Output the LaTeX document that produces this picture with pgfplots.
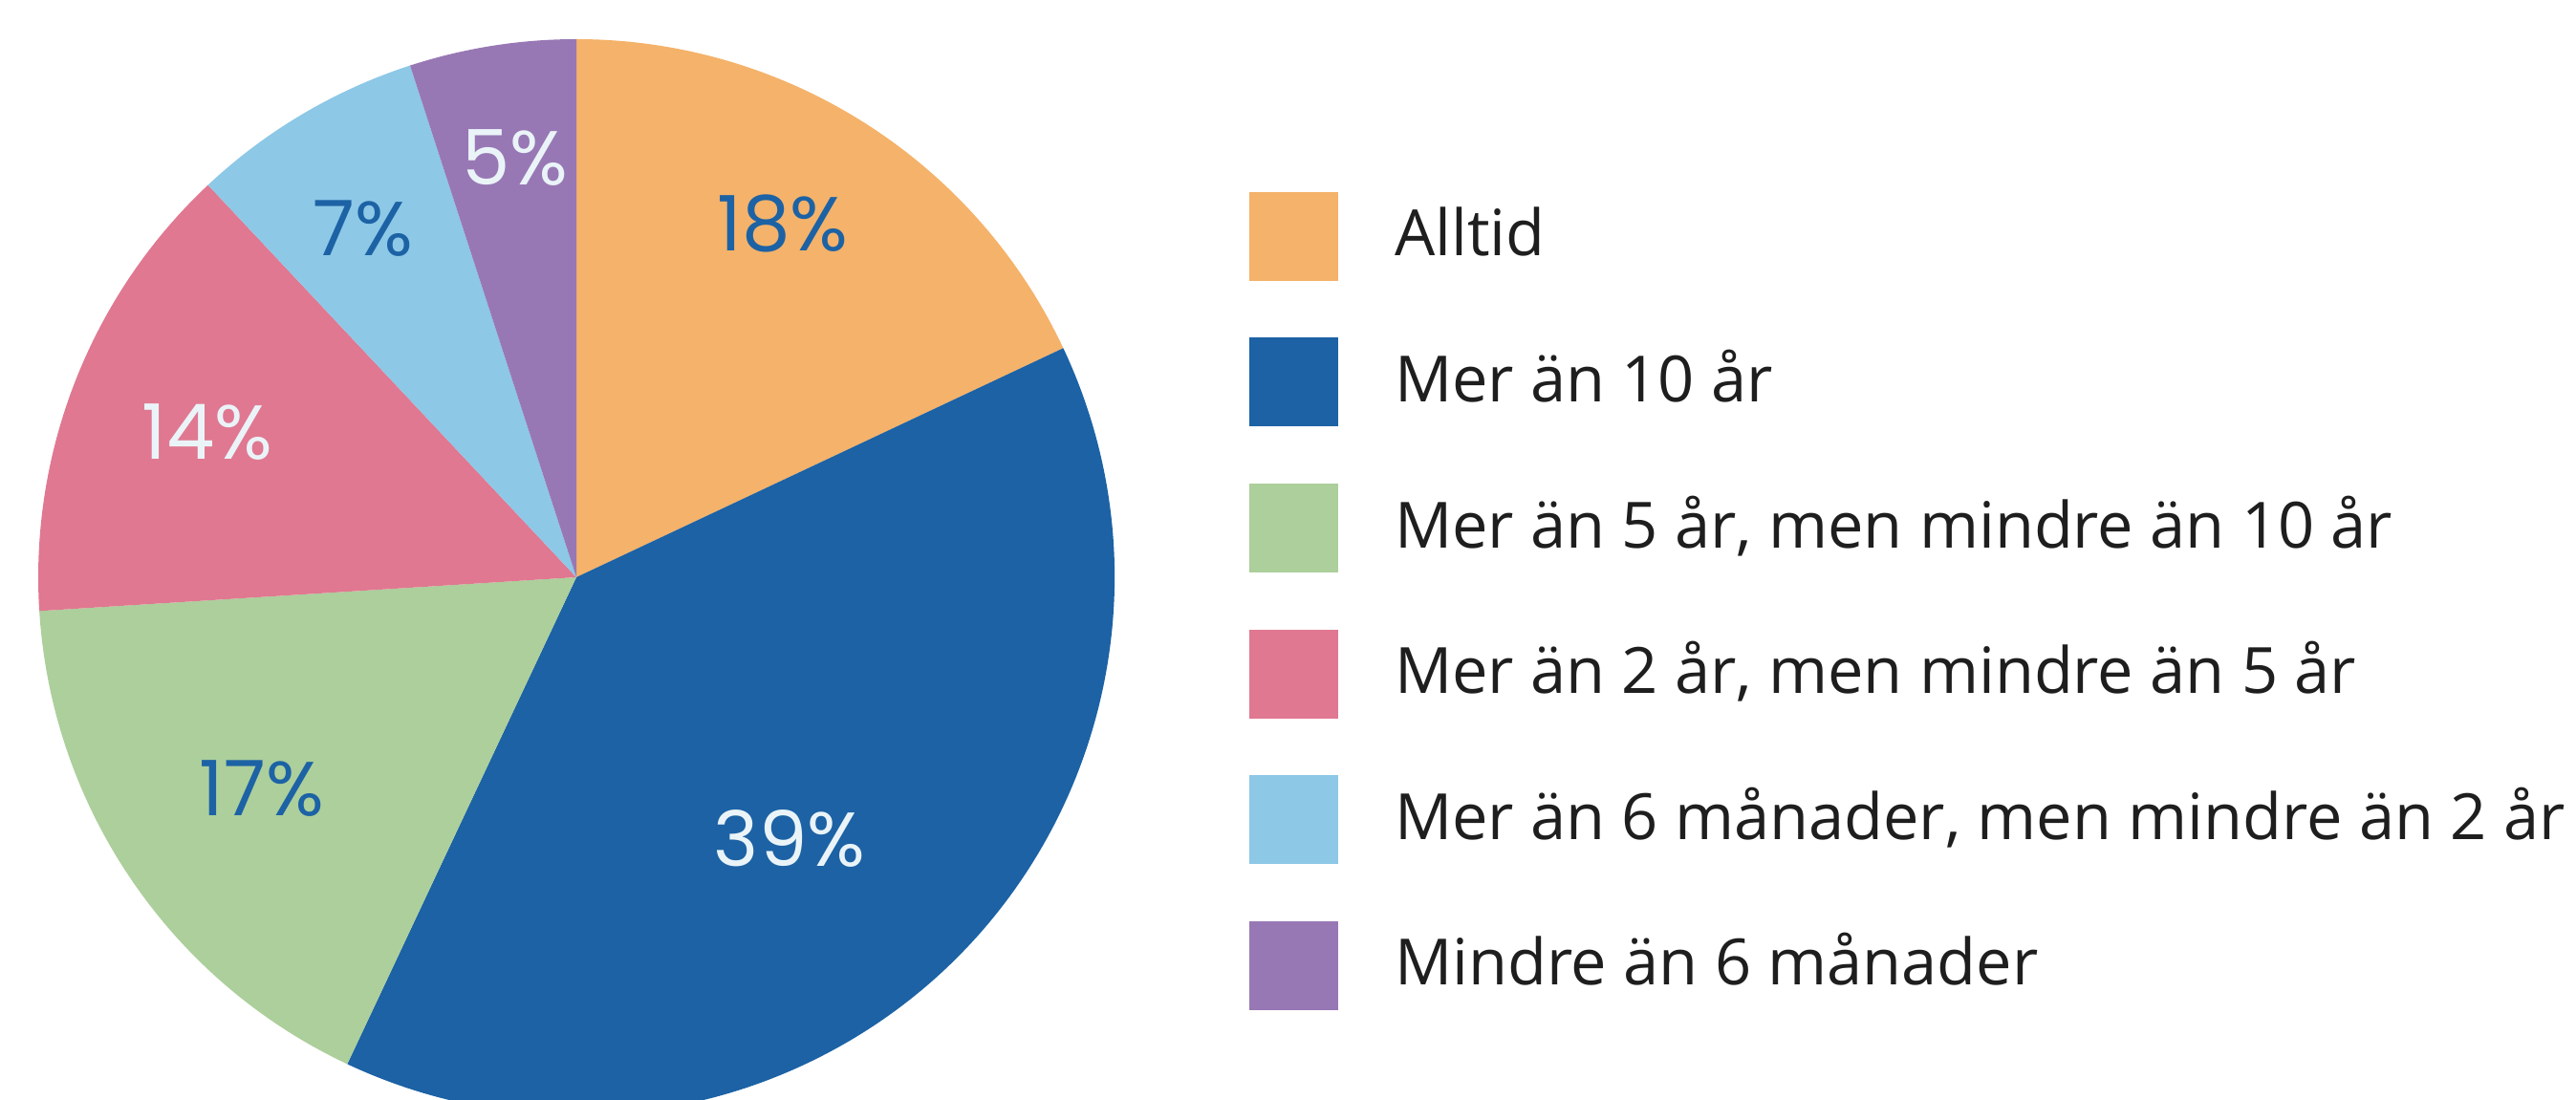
\documentclass[border=0pt]{standalone}
\usepackage{fontspec}
\setmainfont{Open Sans}
\newfontfamily\numfont{Poppins}
\usepackage{pgfplots}
\pgfplotsset{compat=1.18}

\definecolor{cAlltid}{HTML}{F4B26A}
\definecolor{cTio}{HTML}{1C62A5}
\definecolor{cFem}{HTML}{ACCF9B}
\definecolor{cTva}{HTML}{E07891}
\definecolor{cSex}{HTML}{8DC8E6}
\definecolor{cMindre}{HTML}{9878B4}
\definecolor{lblwhite}{HTML}{EAF4F8}
\definecolor{txt}{HTML}{1E1E1E}

% pie centre and radius (image pixels, 1px = 0.2pt)
\def\cx{603}
\def\cy{547}
\def\R{112.6pt}

% start (cumulative %), value (%), colour
\newcommand{\slice}[3]{%
  \fill[#3] (axis cs:\cx,\cy) -- ++({90-3.6*#1}:\R)
    arc[start angle={90-3.6*#1}, end angle={90-3.6*(#1+#2)}, radius=\R] -- cycle;}
% y centre, colour, text
\newcommand{\legrow}[3]{%
  \fill[#2] (axis cs:1307,#1-46.5) rectangle (axis cs:1400,#1+46.5);
  \node[anchor=base west, inner sep=0pt, text=txt, font=\fontsize{13.35}{16}\selectfont]
    at (axis cs:1458,#1-20.5) {#3};}

\begin{document}
\begin{tikzpicture}
\begin{axis}[
    scale only axis,
    width=539pt, height=230.2pt,
    xmin=0, xmax=2695, ymin=0, ymax=1151,
    hide axis,
    clip=true,
]
\draw[draw=none] (rel axis cs:0,0) rectangle (rel axis cs:1,1);
% slices: start, value
\slice{0}{18}{cAlltid}
\slice{18}{39}{cTio}
\slice{57}{17}{cFem}
\slice{74}{14}{cTva}
\slice{88}{7}{cSex}
\slice{95}{5}{cMindre}

\begin{scope}[every node/.style={font=\numfont\fontsize{16}{18}\selectfont, inner sep=0pt}]
\node[text=cTio] at (axis cs:819,917) {18\%};
\node[text=lblwhite] at (axis cs:826,273) {39\%};
\node[text=cTio] at (axis cs:274,326) {17\%};
\node[text=lblwhite] at (axis cs:217,699) {14\%};
\node[text=cTio] at (axis cs:380,912) {7\%};
\node[text=lblwhite] at (axis cs:539,986) {5\%};
\end{scope}

\legrow{903.5}{cAlltid}{Alltid}
\legrow{751}{cTio}{Mer än 10 år}
\legrow{598.3}{cFem}{Mer än 5 år, men mindre än 10 år}
\legrow{445.7}{cTva}{Mer än 2 år, men mindre än 5 år}
\legrow{293}{cSex}{Mer än 6 månader, men mindre än 2 år}
\legrow{140.5}{cMindre}{Mindre än 6 månader}
\end{axis}
\end{tikzpicture}
\end{document}
